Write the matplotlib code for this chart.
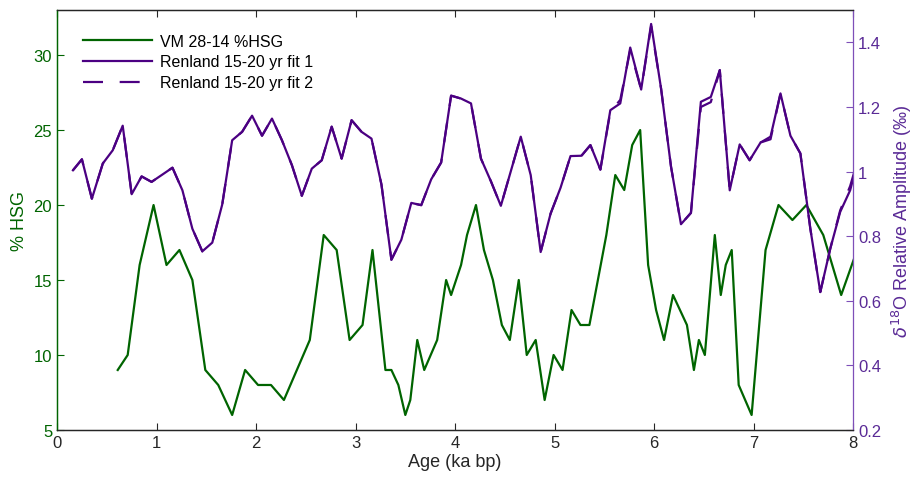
import numpy as np
import matplotlib.pyplot as plt

plt.rcParams['font.family'] = ['Liberation Sans', 'DejaVu Sans']
plt.rcParams['mathtext.fontset'] = 'dejavusans'

#######################################################
## VM 28-14 %HSG
hsg_age = [0.61, 0.71, 0.83, 0.97, 1.10, 1.23, 1.36, 1.49, 1.62, 1.76, 1.89, 2.02,
           2.15, 2.28, 2.54, 2.68, 2.81, 2.94, 3.07, 3.17, 3.30, 3.36, 3.43, 3.50,
           3.55, 3.62, 3.69, 3.82, 3.91, 3.96, 4.06, 4.12, 4.21, 4.29, 4.38, 4.47,
           4.55, 4.64, 4.72, 4.81, 4.90, 4.99, 5.08, 5.17, 5.26, 5.35, 5.52, 5.61,
           5.70, 5.78, 5.86, 5.94, 6.02, 6.10, 6.19, 6.33, 6.40, 6.45, 6.51, 6.61,
           6.67, 6.72, 6.78, 6.85, 6.98, 7.12, 7.25, 7.39, 7.53, 7.70, 7.88, 8.04]
hsg_pct = [9, 10, 16, 20, 16, 17, 15, 9, 8, 6, 9, 8,
           8, 7, 11, 18, 17, 11, 12, 17, 9, 9, 8, 6,
           7, 11, 9, 11, 15, 14, 16, 18, 20, 17, 15, 12,
           11, 15, 10, 11, 7, 10, 9, 13, 12, 12, 18, 22,
           21, 24, 25, 16, 13, 11, 14, 12, 9, 11, 10, 18,
           14, 16, 17, 8, 6, 17, 20, 19, 20, 18, 14, 17]

## Renland d18O relative amplitude
ren_age = [0.16, 0.25, 0.35, 0.46, 0.56, 0.66, 0.75, 0.85, 0.95, 1.06, 1.16, 1.26,
           1.36, 1.46, 1.56, 1.66, 1.76, 1.86, 1.96, 2.06, 2.16, 2.26, 2.36, 2.46,
           2.56, 2.66, 2.76, 2.86, 2.96, 3.06, 3.16, 3.26, 3.36, 3.46, 3.56, 3.66,
           3.76, 3.86, 3.96, 4.06, 4.16, 4.26, 4.36, 4.46, 4.56, 4.66, 4.76, 4.86,
           4.96, 5.06, 5.16, 5.27, 5.36, 5.46, 5.56, 5.66, 5.76, 5.87, 5.97, 6.07,
           6.17, 6.27, 6.37, 6.47, 6.57, 6.66, 6.76, 6.86, 6.96, 7.07, 7.17, 7.27,
           7.37, 7.47, 7.57, 7.67, 7.77, 7.87, 7.97, 8.07]
ren_fit1 = [1.004, 1.038, 0.916, 1.025, 1.066, 1.142, 0.930, 0.985, 0.968, 0.991, 1.012, 0.942,
            0.823, 0.753, 0.780, 0.898, 1.097, 1.123, 1.173, 1.111, 1.164, 1.097, 1.020, 0.925,
            1.009, 1.035, 1.139, 1.040, 1.159, 1.123, 1.102, 0.960, 0.727, 0.789, 0.903, 0.896,
            0.976, 1.028, 1.235, 1.226, 1.211, 1.040, 0.970, 0.894, 1.001, 1.108, 0.989, 0.751,
            0.870, 0.950, 1.048, 1.049, 1.082, 1.006, 1.190, 1.211, 1.384, 1.254, 1.457, 1.257,
            1.015, 0.837, 0.872, 1.216, 1.231, 1.314, 0.942, 1.084, 1.035, 1.090, 1.108, 1.242,
            1.111, 1.056, 0.823, 0.627, 0.761, 0.875, 0.942, 1.060]
ren_fit2 = [1.004, 1.038, 0.916, 1.025, 1.066, 1.142, 0.930, 0.985, 0.968, 0.991, 1.012, 0.942,
            0.823, 0.753, 0.780, 0.898, 1.097, 1.123, 1.173, 1.111, 1.164, 1.097, 1.020, 0.925,
            1.009, 1.035, 1.139, 1.040, 1.159, 1.123, 1.102, 0.960, 0.727, 0.789, 0.903, 0.896,
            0.976, 1.028, 1.235, 1.226, 1.211, 1.040, 0.970, 0.894, 1.001, 1.108, 0.989, 0.751,
            0.870, 0.950, 1.048, 1.049, 1.082, 1.006, 1.185, 1.222, 1.376, 1.254, 1.450, 1.257,
            1.015, 0.837, 0.872, 1.200, 1.215, 1.314, 0.942, 1.084, 1.035, 1.090, 1.100, 1.242,
            1.111, 1.056, 0.823, 0.627, 0.761, 0.880, 0.955, 1.060]
#######################################################

green  = "#006400"
purple = "#4b0082"
rpurp  = "#7e4fb8"
dark   = "#262626"

fig = plt.figure(figsize=(9.14, 4.81), dpi=100)
ax1 = fig.add_axes([0.0624, 0.104, 0.871, 0.873])
ax2 = ax1.twinx()

l1, = ax1.plot(hsg_age, hsg_pct, color=green, lw=1.6, label="VM 28-14 %HSG")
l2, = ax2.plot(ren_age, ren_fit1, color=purple, lw=1.6, label="Renland 15-20 yr fit 1")
l3, = ax2.plot(ren_age, ren_fit2, color=purple, lw=1.6, dashes=(9, 7.5),
               label="Renland 15-20 yr fit 2")

ax1.set_xlim(0, 8)
ax1.set_ylim(5, 33)
ax2.set_ylim(0.2, 1.5)
ax1.set_xticks(np.arange(0, 9, 1))
ax1.set_yticks(np.arange(5, 31, 5))
ax2.set_yticks(np.arange(0.2, 1.41, 0.2))
ax2.set_yticklabels(["0.2", "0.4", "0.6", "0.8", "1", "1.2", "1.4"])

ax1.tick_params(axis='x', direction='in', top=True, colors=dark, labelsize=12, length=5)
ax1.tick_params(axis='y', direction='in', colors=green, labelsize=12, length=5)
ax2.tick_params(axis='y', direction='in', colors=rpurp, labelcolor="#5a2a96",
                labelsize=12, length=5)

for s in ['top', 'bottom']:
    ax1.spines[s].set_color(dark)
    ax2.spines[s].set_color(dark)
ax1.spines['left'].set_color(green)
ax2.spines['left'].set_color(green)
ax2.spines['right'].set_color(rpurp)
ax1.spines['right'].set_visible(False)
for s in ax2.spines.values():
    s.set_linewidth(0.9)
for s in ax1.spines.values():
    s.set_linewidth(0.9)

ax1.set_xlabel("Age (ka bp)", fontsize=13, color=dark, labelpad=2)
ax1.set_ylabel("% HSG", fontsize=13, color=green, labelpad=4)
ax2.set_ylabel(r"$\delta^{18}$O Relative Amplitude (‰)", fontsize=13, color="#5a2a96",
               labelpad=6)

ax2.legend(handles=[l1, l2, l3], loc="upper left", frameon=False, fontsize=11.5,
           handlelength=4.3, handletextpad=0.5, labelspacing=0.36,
           bbox_to_anchor=(0.015, 0.978))

plt.savefig("out.png", dpi=100)
